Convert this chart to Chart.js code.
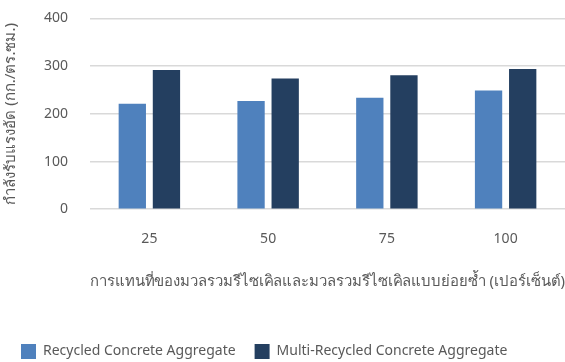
<!DOCTYPE html>
<html>
<head>
<meta charset="utf-8">
<script src="https://cdn.jsdelivr.net/npm/chart.js@4.4.0/dist/chart.umd.min.js"></script>
<style>
  html, body { margin: 0; padding: 0; background: #ffffff; }
  #wrap { width: 565px; height: 362px; }
</style>
</head>
<body>
<div id="wrap"><canvas id="c" width="565" height="362"></canvas></div>
<script>
// Replacement level (%) of recycled aggregate
const categories = ['25', '50', '75', '100'];
// Compressive strength (ksc)
const rcaValues = [221, 227, 234, 249];
const mrcaValues = [292, 274, 281, 294];
const seriesNames = ['Recycled Concrete Aggregate', 'Multi-Recycled Concrete Aggregate'];
const yTicks = [0, 100, 200, 300, 400];
const yTitle = 'กำลังรับแรงอัด (กก./ตร.ซม.)';
const xTitle = 'การแทนที่ของมวลรวมรีไซเคิลและมวลรวมรีไซเคิลแบบย่อยซ้ำ (เปอร์เซ็นต์)';

const FONT = "'Noto Sans', 'DejaVu Sans', sans-serif";
const TEXT = '#595959';

new Chart(document.getElementById('c'), {
  type: 'bar',
  data: {
    labels: categories,
    datasets: [
      { label: seriesNames[0], data: rcaValues, backgroundColor: '#4F81BD', borderWidth: 0 },
      { label: seriesNames[1], data: mrcaValues, backgroundColor: '#243F60', borderWidth: 0 }
    ]
  },
  options: {
    responsive: false,
    animation: false,
    devicePixelRatio: 1,
    categoryPercentage: 0.575,
    barPercentage: 0.8,
    layout: { padding: { left: 2, right: 0, top: 0, bottom: -7 } },
    plugins: {
      tooltip: { enabled: false },
      legend: {
        position: 'bottom',
        align: 'start',
        labels: {
          color: TEXT,
          font: { family: FONT, size: 14 },
          boxWidth: 15,
          boxHeight: 15,
          padding: 19
        }
      }
    },
    scales: {
      x: {
        grid: { display: false, drawTicks: false },
        border: { display: false },
        ticks: { color: TEXT, font: { family: FONT, size: 14 }, padding: 21 },
        title: {
          display: true,
          text: xTitle,
          color: TEXT,
          font: { family: FONT, size: 15 },
          padding: { top: 5, bottom: 34 }
        }
      },
      y: {
        min: 0,
        max: 400,
        afterBuildTicks: (axis) => { axis.ticks = yTicks.map(v => ({ value: v })); },
        afterFit: (axis) => {
          axis.width = 88;
          axis.paddingTop = 18.5;
          axis.paddingBottom = 0;
        },
        grid: { color: '#D9D9D9', lineWidth: 1.5, drawTicks: false },
        border: { display: false },
        ticks: { color: TEXT, font: { family: FONT, size: 14 }, padding: 22 },
        title: {
          display: true,
          text: yTitle,
          color: TEXT,
          font: { family: FONT, size: 15 },
          padding: { top: 0, bottom: 8 }
        }
      }
    }
  }
});
</script>
</body>
</html>
